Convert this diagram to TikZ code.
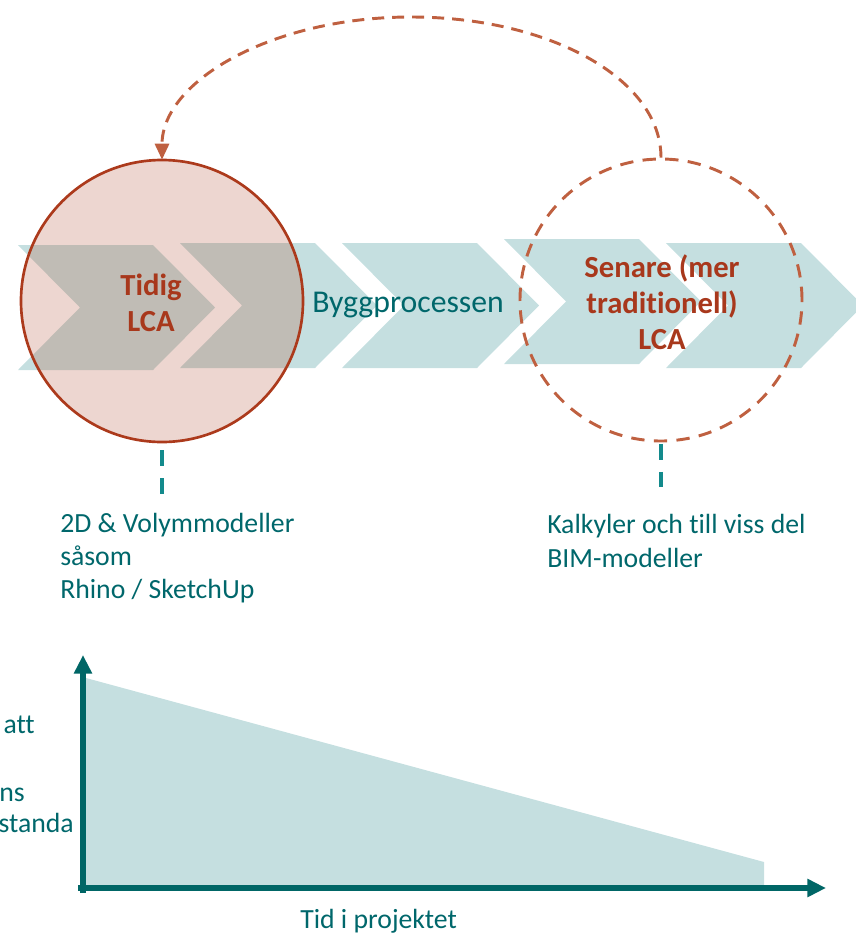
\documentclass[tikz,border=0pt]{standalone}
\usepackage{fontspec}
\setmainfont{Carlito}[Ligatures={NoCommon,NoRare,NoContextual}]
\usetikzlibrary{arrows.meta}

\definecolor{chevteal}{HTML}{C5DFE0}
\definecolor{pinkfill}{HTML}{EDD6D0}
\definecolor{overlapgray}{HTML}{C0BCB5}
\definecolor{rustline}{HTML}{AC3A1C}
\definecolor{rusttext}{HTML}{A8381C}
\definecolor{rustdash}{HTML}{BF6040}
\definecolor{tealtext}{HTML}{00676B}
\definecolor{tealaxis}{HTML}{006666}
\definecolor{tealdash}{HTML}{138A8C}

\tikzset{
  pics/chevronshape/.style={code={
    \path[pic actions] (0,0) -- (135,0) -- (197,62.5) -- (135,125) -- (0,125) -- (62,62.5) -- cycle;
  }},
  bodytext/.style={inner sep=0pt, text=tealtext, font=\fontsize{20.8}{25}\selectfont},
  processtext/.style={inner sep=0pt, text=tealtext, font=\fontsize{23.8}{28}\selectfont},
  lcatext/.style={inner sep=0pt, text=rusttext, font=\fontsize{23}{27}\selectfont\bfseries},
  phasecircle/.style={circle, inner sep=0pt, minimum size=211.5pt},
  tealdashline/.style={draw=tealdash, line width=3pt, dash pattern=on 12pt off 9pt},
  returnarc/.style={draw=rustdash, line width=2.2pt, dash pattern=on 9pt off 6pt,
    -{Triangle[length=12pt,width=10.5pt]}},
  axisline/.style={draw=tealaxis, line width=3.8pt, -{Triangle[length=14pt,width=13pt]}},
}

\begin{document}
\begin{tikzpicture}[x=0.75pt,y=-0.75pt]
  \useasboundingbox (0,0) rectangle (856,936);
  \clip (0,0) rectangle (856,936);

  % process chevrons
  \foreach \cx/\cy in {18/245, 180/243, 342/243, 504/239, 666/243}
    \pic[fill=chevteal] at (\cx,\cy) {chevronshape};

  % early-phase circle: pink disc, chevrons inside turn grey
  \node[phasecircle, fill=pinkfill] (early) at (162,301) {};
  \begin{scope}
    \clip (162,301) circle[radius=141];
    \foreach \cx/\cy in {18/245, 180/243}
      \pic[fill=overlapgray] at (\cx,\cy) {chevronshape};
  \end{scope}
  \node[phasecircle, draw=rustline, line width=2pt] at (early) {};

  % later-phase circle
  \node[phasecircle, draw=rustdash, line width=2.2pt, dash pattern=on 10pt off 7pt] (late) at (661,300) {};

  % return arrow from late to early phase
  \coordinate (apex) at (411,17);
  \draw[returnarc] (late.north) .. controls +(0,-79) and +(138,0) .. (apex)
        .. controls +(-138,0) and +(0,-79) .. (early.north);

  % labels inside the process
  \node[lcatext, anchor=base] (tidig1) at (151,295) {Tidig};
  \node[lcatext, anchor=base] (tidig2) at (151,331) {LCA};
  \node[processtext, anchor=base west] (bygg) at (312,312) {Byggprocessen};
  \node[lcatext, anchor=base] (sen1) at (662,277) {Senare (mer};
  \node[lcatext, anchor=base] (sen2) at (662,313) {traditionell)};
  \node[lcatext, anchor=base] (sen3) at (662,349) {LCA};

  % leader lines to the tool descriptions
  \coordinate (earlyleg) at (162,494);
  \coordinate (lateleg) at (661,487);
  \draw[tealdashline] ([yshift=-6pt]early.south) -- (earlyleg);
  \draw[tealdashline] ([yshift=-1pt]late.south) -- (lateleg);

  \node[bodytext, anchor=base west] (tool1) at (60,532) {2D \& Volymmodeller};
  \node[bodytext, anchor=base west] (tool2) at (60,565) {såsom};
  \node[bodytext, anchor=base west] (tool3) at (60,598) {Rhino / SketchUp};
  \node[bodytext, anchor=base west] (tool4) at (547,533) {Kalkyler och till viss del};
  \node[bodytext, anchor=base west] (tool5) at (547,567) {BIM-modeller};

  % influence over time chart
  \fill[chevteal] (86,678) -- (764,862) -- (764,888) -- (86,888) -- cycle;
  \coordinate (ytip) at (83,655);
  \coordinate (xtip) at (826,888);
  \draw[axisline] (83,893) -- (ytip);
  \draw[axisline] (78,888) -- (xtip);

  \node[bodytext, anchor=base west] (xlabel) at (300,928) {Tid i projektet};
  \node[bodytext, anchor=base east] (ylab1) at (35,733) {att};
  \node[bodytext, anchor=base east] (ylab2) at (25,801) {ns};
  \node[bodytext, anchor=base east] (ylab3) at (74,832) {standa};
\end{tikzpicture}
\end{document}
